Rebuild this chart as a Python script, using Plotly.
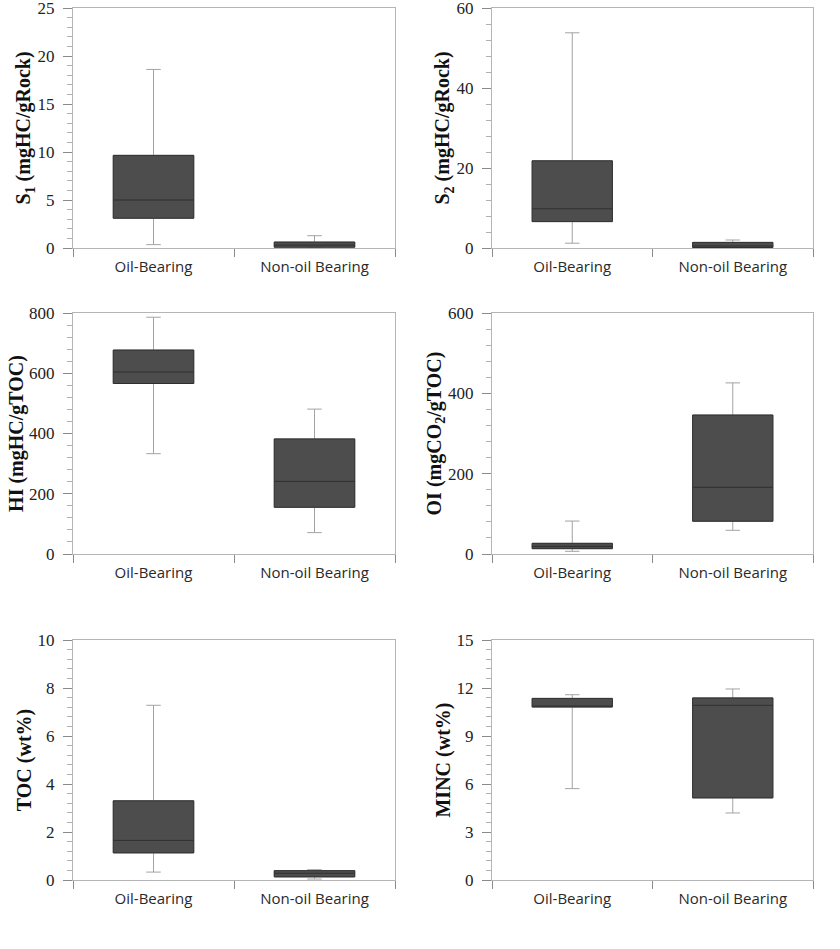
import plotly.graph_objects as go

categories = ["Oil-Bearing", "Non-oil Bearing"]

# Each panel: [Oil-Bearing, Non-oil Bearing]
s1_low = [0.35, 0.05]
s1_q1 = [3.1, 0.08]
s1_med = [5.0, 0.3]
s1_q3 = [9.65, 0.62]
s1_high = [18.6, 1.28]

s2_low = [1.2, 0.1]
s2_q1 = [6.6, 0.12]
s2_med = [9.8, 0.5]
s2_q3 = [21.8, 1.4]
s2_high = [53.8, 2.0]

hi_low = [333, 71]
hi_q1 = [566, 155]
hi_med = [604, 241]
hi_q3 = [677, 382]
hi_high = [786, 481]

oi_low = [6.7, 59]
oi_q1 = [13.3, 81.5]
oi_med = [19, 166]
oi_q3 = [26.6, 346]
oi_high = [82, 426]

toc_low = [0.33, 0.04]
toc_q1 = [1.13, 0.13]
toc_med = [1.65, 0.28]
toc_q3 = [3.3, 0.39]
toc_high = [7.28, 0.43]

minc_low = [5.71, 4.19]
minc_q1 = [10.81, 5.13]
minc_med = [10.85, 10.92]
minc_q3 = [11.35, 11.38]
minc_high = [11.58, 11.94]

panels = [
    dict(low=s1_low, q1=s1_q1, med=s1_med, q3=s1_q3, high=s1_high,
         title="<b>S<sub>1</sub> (mgHC/gRock)</b>", rng=[0, 25], dtick=5, minor=1),
    dict(low=s2_low, q1=s2_q1, med=s2_med, q3=s2_q3, high=s2_high,
         title="<b>S<sub>2</sub> (mgHC/gRock)</b>", rng=[0, 60], dtick=20, minor=4),
    dict(low=hi_low, q1=hi_q1, med=hi_med, q3=hi_q3, high=hi_high,
         title="<b>HI (mgHC/gTOC)</b>", rng=[0, 800], dtick=200, minor=40),
    dict(low=oi_low, q1=oi_q1, med=oi_med, q3=oi_q3, high=oi_high,
         title="<b>OI (mgCO<sub>2</sub>/gTOC)</b>", rng=[0, 600], dtick=200, minor=40),
    dict(low=toc_low, q1=toc_q1, med=toc_med, q3=toc_q3, high=toc_high,
         title="<b>TOC (wt%)</b>", rng=[0, 10], dtick=2, minor=0.4),
    dict(low=minc_low, q1=minc_q1, med=minc_med, q3=minc_q3, high=minc_high,
         title="<b>MINC (wt%)</b>", rng=[0, 15], dtick=3, minor=0.6),
]

W, H = 840, 949
col_px = [(73, 395), (492, 813)]
row_px = [(8, 248), (313, 554), (640, 880)]
xdoms = [[a / W, b / W] for a, b in col_px]
ydoms = [[1 - b / H, 1 - t / H] for t, b in row_px]

fig = go.Figure()
layout = dict(
    width=W, height=H, margin=dict(l=0, r=0, t=0, b=0, autoexpand=False),
    paper_bgcolor="white", plot_bgcolor="white", showlegend=False,
    boxmode="overlay",
)

for i, p in enumerate(panels):
    r, c = divmod(i, 2)
    xa = "x" if i == 0 else f"x{i+1}"
    ya = "y" if i == 0 else f"y{i+1}"
    # whiskers
    fig.add_trace(go.Box(
        x=categories, q1=p["q1"], median=p["med"], q3=p["q3"],
        lowerfence=p["low"], upperfence=p["high"],
        xaxis=xa, yaxis=ya, width=0.5, whiskerwidth=0.18,
        fillcolor="rgba(0,0,0,0)", line=dict(color="#a3a3a3", width=1),
        hoverinfo="skip", boxpoints=False,
    ))
    # box body
    fig.add_trace(go.Box(
        x=categories, q1=p["q1"], median=p["med"], q3=p["q3"],
        lowerfence=p["q1"], upperfence=p["q3"],
        xaxis=xa, yaxis=ya, width=0.5, whiskerwidth=0.0,
        fillcolor="#4d4d4d", line=dict(color="#2f2f2f", width=1),
        boxpoints=False,
    ))
    layout["xaxis" if i == 0 else f"xaxis{i+1}"] = dict(
        domain=xdoms[c], anchor=ya, type="category", automargin=False,
        showline=True, mirror=True, linecolor="#b5b5b5", linewidth=1,
        ticks="outside", tickson="boundaries", ticklen=8, tickcolor="#8a8a8a",
        ticklabelstandoff=5,
        showgrid=False, zeroline=False,
        tickfont=dict(family="Open Sans", size=15, color="#2a2a2a"),
        range=[-0.5, 1.5],
    )
    layout["yaxis" if i == 0 else f"yaxis{i+1}"] = dict(
        domain=ydoms[r], anchor=xa, range=p["rng"], dtick=p["dtick"],
        automargin=False, ticklabeloverflow="allow", ticklabelstandoff=5,
        showline=True, mirror=True, linecolor="#b5b5b5", linewidth=1,
        ticks="outside", ticklen=9, tickcolor="#8a8a8a",
        minor=dict(dtick=p["minor"], ticks="outside", ticklen=5, tickcolor="#b0b0b0"),
        showgrid=False, zeroline=False,
        tickfont=dict(family="Liberation Serif", size=17, color="#222222"),
        title=dict(text=p["title"], standoff=0,
                   font=dict(family="Liberation Serif", size=20, color="#111111")),
    )

fig.update_layout(**layout)
fig.write_html(
    "out.html",
    config={"displayModeBar": False},
    post_script="document.body.style.margin='0';document.body.style.overflow='hidden';",
)
